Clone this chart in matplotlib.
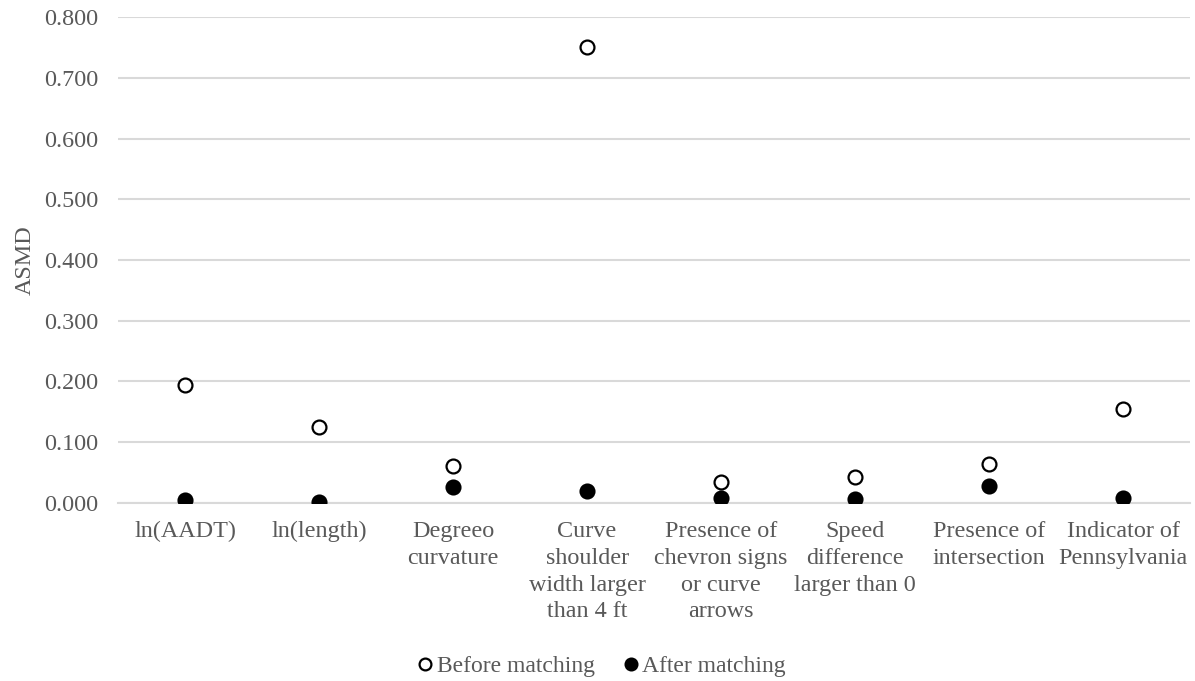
import matplotlib.pyplot as plt
from matplotlib.ticker import FormatStrFormatter

# variables and ASMD values
categories = ['ln(AADT)', 'ln(length)', 'Degreeo\ncurvature',
              'Curve\nshoulder\nwidth larger\nthan 4 ft',
              'Presence of\nchevron signs\nor curve\narrows',
              'Speed\ndifference\nlarger than 0',
              'Presence of\nintersection', 'Indicator of\nPennsylvania']
before = [0.194, 0.125, 0.061, 0.751, 0.034, 0.043, 0.064, 0.155]
after = [0.005, 0.002, 0.027, 0.019, 0.009, 0.007, 0.028, 0.009]
yticks = [0.0, 0.1, 0.2, 0.3, 0.4, 0.5, 0.6, 0.7, 0.8]

plt.rcParams['font.family'] = ['Liberation Serif', 'DejaVu Serif']
grey = '#595959'
fs = 17.4

fig = plt.figure(figsize=(11.95, 6.81), dpi=100)
ax = fig.add_axes([0.0987, 0.2614, 0.8973, 0.7136])

x = list(range(len(categories)))
ax.plot(x, before, 'o', ms=10, mfc='white', mec='black', mew=1.6,
        label='Before matching', zorder=3)
ax.plot(x, after, 'o', ms=10, mfc='black', mec='black', mew=1.6,
        label='After matching', zorder=3)

ax.set_xlim(-0.5, len(categories) - 0.5)
ax.set_ylim(0, 0.8)
ax.set_yticks(yticks)
ax.yaxis.set_major_formatter(FormatStrFormatter('%.3f'))
ax.set_xticks(x)
ax.set_xticklabels(categories, linespacing=1.36)
ax.grid(axis='y', color='#d9d9d9', lw=1.5)
ax.set_axisbelow(True)
for s in ['top', 'right', 'left']:
    ax.spines[s].set_visible(False)
ax.spines['bottom'].set_color('#d9d9d9')
ax.spines['bottom'].set_linewidth(1.5)
ax.tick_params(axis='both', length=0, labelsize=fs, colors=grey)
ax.tick_params(axis='x', pad=13)
ax.tick_params(axis='y', pad=14)
ax.set_ylabel('ASMD', fontsize=fs, color=grey, labelpad=6)

fig.legend(loc='lower center', bbox_to_anchor=(0.502, -0.025), ncol=2,
           frameon=False, fontsize=17, labelcolor=grey, handletextpad=0.0,
           columnspacing=1.0, handlelength=1.0, markerscale=0.85)

fig.savefig('out.png', dpi=100)
